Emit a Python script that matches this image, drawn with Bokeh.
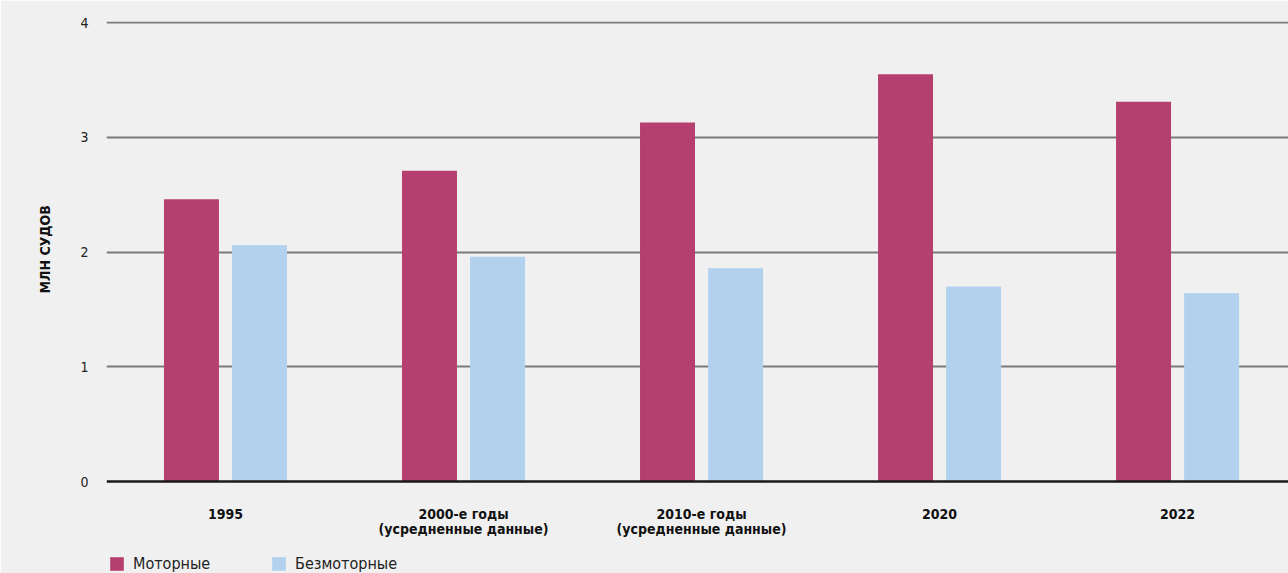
from bokeh.plotting import figure
from bokeh.models import ColumnDataSource, Legend, LegendItem, FixedTicker, Range1d, Span, Title
from bokeh.core.properties import value
from bokeh.transform import dodge
from bokeh.embed import file_html
from bokeh.resources import INLINE

categories = ["1995", "2000-е годы\n(усредненные данные)", "2010-е годы\n(усредненные данные)", "2020", "2022"]
motor = [2.46, 2.71, 3.13, 3.55, 3.31]
nonmotor = [2.06, 1.96, 1.86, 1.70, 1.64]
series_names = ["Моторные", "Безмоторные"]
y_ticks = [0, 1, 2, 3, 4]
y_title = "МЛН СУДОВ"

FONT = "DejaVu Sans Condensed, Roboto, sans-serif"
BG = "#f0f0f0"

xs = list(range(len(categories)))
line1 = [c.split("\n")[0] for c in categories]
line2 = [c.split("\n")[1] if "\n" in c else "" for c in categories]
src = ColumnDataSource(dict(x=xs, motor=motor, nonmotor=nonmotor, l1=line1, l2=line2))

p = figure(width=1288, height=573, output_backend="svg", toolbar_location=None,
           x_range=Range1d(-0.5, 4.466), y_range=Range1d(-0.802, 4.01),
           x_axis_location=None,
           background_fill_color=BG, border_fill_color=BG, outline_line_color=None,
           min_border_left=106, min_border_right=0, min_border_top=21, min_border_bottom=0)

r1 = p.vbar(x=dodge("x", -0.143, range=p.x_range), top="motor", width=0.231, source=src,
            fill_color="#b5406f", line_color=None)
r2 = p.vbar(x=dodge("x", 0.143, range=p.x_range), top="nonmotor", width=0.231, source=src,
            fill_color="#b1d1ee", line_color=None)

# baseline (zero line)
p.add_layout(Span(location=0, dimension="width", line_color="#1a1a1a", line_width=2.5))

# category labels under the baseline
for col, yy in (("l1", -0.279), ("l2", -0.410)):
    p.text(x="x", y=yy, text=col, source=src, text_align="center", text_baseline="middle",
           text_font=value(FONT), text_font_style="bold", text_font_size="14px",
           text_color="#111111")

# grid
p.xgrid.grid_line_color = None
p.ygrid.ticker = FixedTicker(ticks=[1, 2, 3, 4])
p.ygrid.grid_line_color = "#7a7a7a"
p.ygrid.grid_line_width = 2

# y axis
p.yaxis.ticker = FixedTicker(ticks=y_ticks)
p.yaxis.axis_line_color = None
p.yaxis.major_tick_line_color = None
p.yaxis.minor_tick_line_color = None
p.yaxis.major_label_standoff = 12
p.yaxis.major_label_text_font = FONT
p.yaxis.major_label_text_font_size = "14px"
p.yaxis.major_label_text_color = "#222222"

p.add_layout(Title(text=y_title, align="left", offset=280, text_font=FONT,
                   text_font_style="bold", text_font_size="14px", text_color="#111111",
                   standoff=50), "left")

legend = Legend(items=[LegendItem(label=series_names[0], renderers=[r1]),
                       LegendItem(label=series_names[1], renderers=[r2])],
                orientation="horizontal", location=(2, 0),
                glyph_width=17, glyph_height=17, label_standoff=8,
                label_width=130, label_height=17, spacing=7, padding=0, margin=0,
                label_text_font=FONT, label_text_font_size="16px", label_text_color="#222222",
                border_line_color=None, background_fill_alpha=0)
p.add_layout(legend)

open("out.html", "w").write(file_html(p, INLINE))
